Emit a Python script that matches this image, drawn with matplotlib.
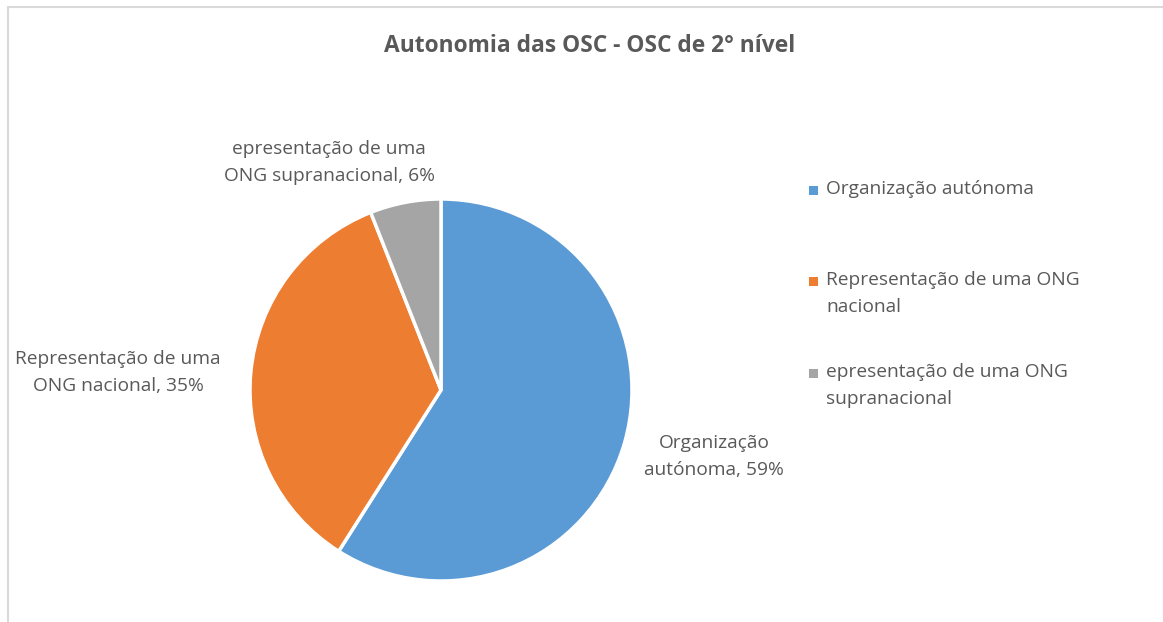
import matplotlib
matplotlib.use('Agg')
import matplotlib.pyplot as plt
from matplotlib.patches import Rectangle

# data
categories = ['Organização autónoma', 'Representação de uma ONG nacional',
              'epresentação de uma ONG supranacional']
values = [59, 35, 6]
colors = ['#5B9BD5', '#ED7D31', '#A5A5A5']
legend_labels = ['Organização autónoma', 'Representação de uma ONG\nnacional',
                 'epresentação de uma ONG\nsupranacional']
slice_labels = ['Organização\nautónoma', 'Representação de uma\nONG nacional',
                'epresentação de uma\nONG supranacional']

plt.rcParams['font.family'] = ['Open Sans', 'DejaVu Sans']
txt = '#595959'

fig = plt.figure(figsize=(11.63, 6.22), dpi=100)

# chart frame (light grey, top and left visible)
fig.patches.append(Rectangle((8 / 1163, -0.1), 1.2, (622 - 7) / 622 + 0.1,
                             transform=fig.transFigure, fill=False,
                             edgecolor='#D9D9D9', linewidth=1.5))

fig.text(590 / 1163, 1 - 46 / 622, 'Autonomia das OSC - OSC de 2° nível',
         ha='center', va='center', fontsize=16.4, fontweight='bold', color=txt)

ax = fig.add_axes([250 / 1163, 41 / 622, 382 / 1163, 382 / 622])
ax.pie(values, colors=colors, startangle=90, counterclock=False,
       wedgeprops=dict(edgecolor='white', linewidth=2.5))
ax.set_aspect('equal')
ax.set_xlim(-1, 1)
ax.set_ylim(-1, 1)

# data labels
label_pos = [(1.43, -0.35), (-1.69, 0.09), (-0.585, 1.19)]
for lab, v, (x, y) in zip(slice_labels, values, label_pos):
    ax.text(x, y, f'{lab}, {v}%', ha='center', va='center', fontsize=13.8,
            color=txt, linespacing=1.65)

# legend
leg_y = [190, 281, 373]
for lab, c, y in zip(legend_labels, colors, leg_y):
    fy = 1 - y / 622
    fig.patches.append(Rectangle((809 / 1163, fy - 4.5 / 622), 9 / 1163, 9 / 622,
                                 transform=fig.transFigure, facecolor=c,
                                 edgecolor='none'))
    fig.text(826 / 1163, 1 - (y - 10) / 622, lab, ha='left', va='top',
             fontsize=13.8, color=txt, linespacing=1.65)

fig.savefig('out.png', dpi=100)
